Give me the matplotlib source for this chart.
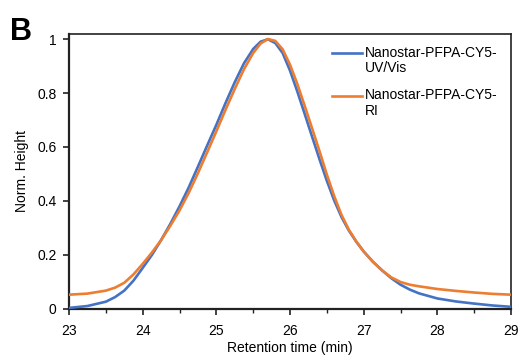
import numpy as np
import matplotlib
matplotlib.use('Agg')
import matplotlib.pyplot as plt
from matplotlib.ticker import MultipleLocator, FuncFormatter

plt.rcParams['font.family'] = ['Liberation Sans', 'DejaVu Sans']

# ── Data ─────────────────────────────────────────────────────────────────────
ret_time = [23.0, 23.25, 23.5, 23.625, 23.75, 23.875, 24.0, 24.125, 24.25,
            24.375, 24.5, 24.625, 24.75, 24.875, 25.0, 25.125, 25.25, 25.375,
            25.5, 25.6, 25.7, 25.8, 25.9, 26.0, 26.1, 26.2, 26.3, 26.4, 26.5,
            26.6, 26.7, 26.8, 26.9, 27.0, 27.125, 27.25, 27.375, 27.5, 27.625,
            27.75, 28.0, 28.25, 28.5, 28.75, 29.0]
uv_height = [0.004, 0.011, 0.027, 0.044, 0.068, 0.105, 0.152, 0.2, 0.255,
             0.315, 0.38, 0.45, 0.527, 0.605, 0.682, 0.763, 0.84, 0.91,
             0.963, 0.99, 0.999, 0.985, 0.948, 0.883, 0.805, 0.722, 0.638, 0.555,
             0.475, 0.402, 0.34, 0.29, 0.249, 0.213, 0.175, 0.143, 0.114, 0.09,
             0.072, 0.058, 0.039, 0.028, 0.02, 0.013, 0.008]
ri_height = [0.053, 0.057, 0.068, 0.079, 0.097, 0.128, 0.167, 0.209, 0.255,
             0.308, 0.365, 0.43, 0.503, 0.58, 0.658, 0.738, 0.815, 0.888,
             0.948, 0.983, 1.0, 0.993, 0.962, 0.905, 0.833, 0.752, 0.669, 0.585,
             0.498, 0.418, 0.348, 0.293, 0.25, 0.213, 0.175, 0.143, 0.117, 0.1,
             0.09, 0.084, 0.074, 0.067, 0.061, 0.056, 0.053]

labels = ['Nanostar-PFPA-CY5-\nUV/Vis', 'Nanostar-PFPA-CY5-\nRI']
colors = ['#4472C4', '#ED7D31']

# ── Figure ───────────────────────────────────────────────────────────────────
fig = plt.figure(figsize=(5.2, 3.58), dpi=100)
ax = fig.add_axes([0.1327, 0.1369, 0.85, 0.7681])

ax.plot(ret_time, uv_height, color=colors[0], lw=1.9,
        solid_joinstyle='round', zorder=3)
ax.plot(ret_time, ri_height, color=colors[1], lw=1.9,
        solid_joinstyle='round', zorder=4)

ax.set_xlim(23, 29)
ax.set_ylim(0, 1.0185)
ax.xaxis.set_major_locator(MultipleLocator(1))
ax.xaxis.set_minor_locator(MultipleLocator(0.5))
ax.yaxis.set_major_locator(MultipleLocator(0.2))
ax.yaxis.set_major_formatter(FuncFormatter(lambda v, _: f'{v:g}'))

ax.tick_params(axis='both', which='major', direction='out', length=4,
               width=1.2, labelsize=10, color='#222222')
ax.tick_params(axis='x', which='minor', direction='out', length=3,
               width=1.0, color='#222222')
ax.tick_params(axis='y', pad=5)
ax.tick_params(axis='x', pad=7)

for side in ('left', 'bottom'):
    ax.spines[side].set_linewidth(1.6)
    ax.spines[side].set_color('#222222')
for side in ('top', 'right'):
    ax.spines[side].set_linewidth(1.2)
    ax.spines[side].set_color('#222222')

ax.set_xlabel('Retention time (min)', fontsize=10, labelpad=2)
ax.set_ylabel('Norm. Height', fontsize=10, labelpad=6)

# Legend drawn by hand so the line sits beside the first text row
for lab, col, y in zip(labels, colors, [0.932, 0.776]):
    ax.plot([0.594, 0.662], [y, y], color=col, lw=1.9, transform=ax.transAxes,
            clip_on=False)
    ax.text(0.670, y + 0.026, lab, transform=ax.transAxes, fontsize=10,
            va='top', ha='left', linespacing=1.15)

fig.text(0.019, 0.952, 'B', fontsize=22, fontweight='bold', va='top')

fig.savefig('out.png', dpi=100)
